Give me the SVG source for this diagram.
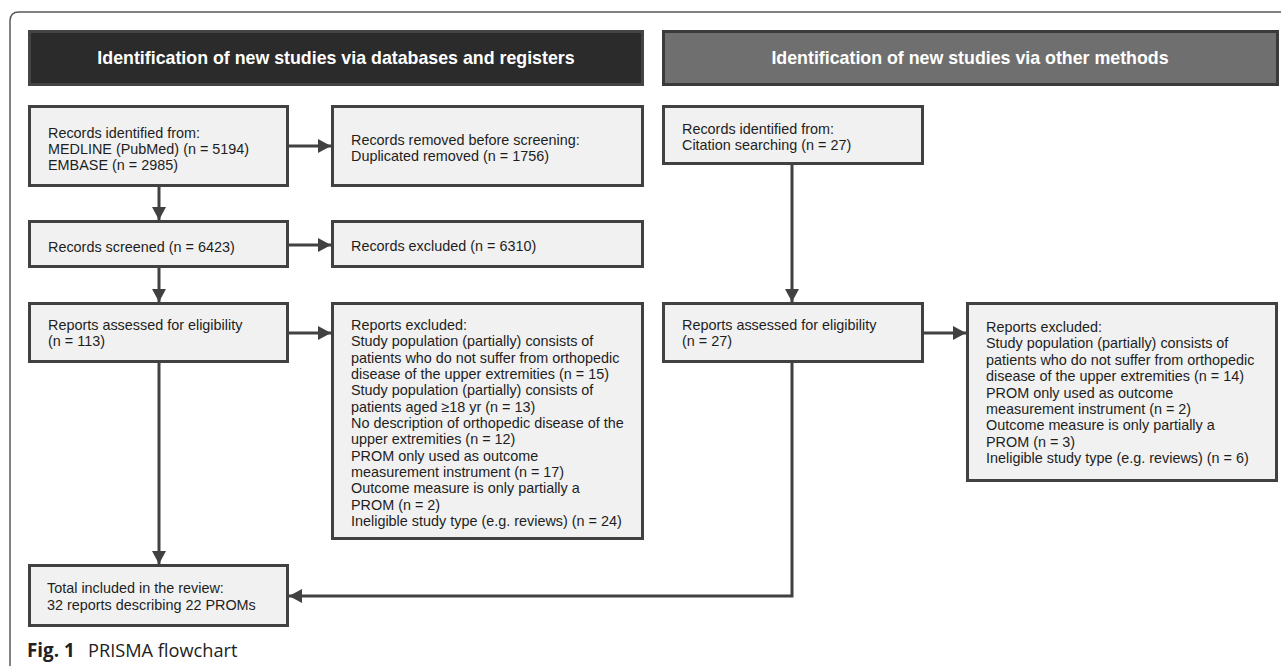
<svg xmlns="http://www.w3.org/2000/svg" width="1281" height="666" viewBox="0 0 1281 666">
<style>
.box{fill:#f1f1f1;stroke:#414141;stroke-width:3}
.t{font-family:"Liberation Sans",Arial,sans-serif;font-size:14.4px;fill:#1e1e1e}
.h{font-family:"Liberation Sans",Arial,sans-serif;font-size:17.8px;font-weight:bold;fill:#ffffff;text-anchor:middle}
.c{stroke:#414141;stroke-width:3;fill:none}
.cap{font-family:"Open Sans","Liberation Sans",sans-serif;font-size:18.2px;fill:#222}
</style>
<defs>
<marker id="ah" viewBox="0 0 13 14" refX="13" refY="7" markerWidth="13" markerHeight="14" markerUnits="userSpaceOnUse" orient="auto">
<path d="M0,0 L13,7 L0,14 z" fill="#414141"/>
</marker>
</defs>
<rect width="1281" height="666" fill="#ffffff"/>
<path d="M10,666 V21 Q10,12 19,12 H1281" fill="none" stroke="#5a5a5a" stroke-width="1.5"/>

<g id="header1">
<rect x="29.5" y="31.5" width="613" height="53" fill="#2b2b2b" stroke="#444444" stroke-width="3"/>
<text class="h" x="336" y="64">Identification of new studies via databases and registers</text>
</g>
<g id="header2">
<rect x="663.5" y="31.5" width="614" height="53" fill="#6f6f6f" stroke="#3a3a3a" stroke-width="3"/>
<text class="h" x="970" y="64">Identification of new studies via other methods</text>
</g>

<g id="records-identified">
<rect class="box" x="29.5" y="106.5" width="258" height="79"/>
<text class="t" x="48" y="138">Records identified from:</text>
<text class="t" x="48" y="154">MEDLINE (PubMed) (n = 5194)</text>
<text class="t" x="48" y="170">EMBASE (n = 2985)</text>
</g>
<g id="records-removed">
<rect class="box" x="332.5" y="106.5" width="310" height="79"/>
<text class="t" x="351" y="145">Records removed before screening:</text>
<text class="t" x="351" y="161">Duplicated removed (n = 1756)</text>
</g>
<g id="records-screened">
<rect class="box" x="29.5" y="221.5" width="258" height="45"/>
<text class="t" x="48" y="252">Records screened (n = 6423)</text>
</g>
<g id="records-excluded">
<rect class="box" x="332.5" y="221.5" width="310" height="45"/>
<text class="t" x="351" y="251">Records excluded (n = 6310)</text>
</g>
<g id="reports-assessed">
<rect class="box" x="29.5" y="303.5" width="258" height="58"/>
<text class="t" x="48" y="330">Reports assessed for eligibility</text>
<text class="t" x="48" y="346">(n = 113)</text>
</g>
<g id="reports-excluded">
<rect class="box" x="332.5" y="303.5" width="310" height="235"/>
<text class="t" x="351" y="330">Reports excluded:</text>
<text class="t" x="351" y="346.3">Study population (partially) consists of</text>
<text class="t" x="351" y="362.7">patients who do not suffer from orthopedic</text>
<text class="t" x="351" y="379">disease of the upper extremities (n = 15)</text>
<text class="t" x="351" y="395.3">Study population (partially) consists of</text>
<text class="t" x="351" y="411.7">patients aged ≥18 yr (n = 13)</text>
<text class="t" x="351" y="428">No description of orthopedic disease of the</text>
<text class="t" x="351" y="444.3">upper extremities (n = 12)</text>
<text class="t" x="351" y="460.7">PROM only used as outcome</text>
<text class="t" x="351" y="477">measurement instrument (n = 17)</text>
<text class="t" x="351" y="493.3">Outcome measure is only partially a</text>
<text class="t" x="351" y="509.7">PROM (n = 2)</text>
<text class="t" x="351" y="526">Ineligible study type (e.g. reviews) (n = 24)</text>
</g>
<g id="total-included">
<rect class="box" x="29.5" y="565.5" width="258" height="60"/>
<text class="t" x="47" y="593">Total included in the review:</text>
<text class="t" x="47" y="610">32 reports describing 22 PROMs</text>
</g>
<g id="citation-records">
<rect class="box" x="663.5" y="106.5" width="259" height="57"/>
<text class="t" x="682" y="134">Records identified from:</text>
<text class="t" x="682" y="150">Citation searching (n = 27)</text>
</g>
<g id="citation-reports-assessed">
<rect class="box" x="663.5" y="303.5" width="259" height="58"/>
<text class="t" x="682" y="330">Reports assessed for eligibility</text>
<text class="t" x="682" y="346">(n = 27)</text>
</g>
<g id="citation-reports-excluded">
<rect class="box" x="967.5" y="303.5" width="309" height="177"/>
<text class="t" x="986" y="332">Reports excluded:</text>
<text class="t" x="986" y="348.4">Study population (partially) consists of</text>
<text class="t" x="986" y="364.8">patients who do not suffer from orthopedic</text>
<text class="t" x="986" y="381.2">disease of the upper extremities (n = 14)</text>
<text class="t" x="986" y="397.6">PROM only used as outcome</text>
<text class="t" x="986" y="414">measurement instrument (n = 2)</text>
<text class="t" x="986" y="430.4">Outcome measure is only partially a</text>
<text class="t" x="986" y="446.8">PROM (n = 3)</text>
<text class="t" x="986" y="463.2">Ineligible study type (e.g. reviews) (n = 6)</text>
</g>

<g id="connectors">
<line class="c" x1="289" y1="146" x2="331" y2="146" marker-end="url(#ah)"/>
<line class="c" x1="159" y1="187" x2="159" y2="220" marker-end="url(#ah)"/>
<line class="c" x1="289" y1="245" x2="331" y2="245" marker-end="url(#ah)"/>
<line class="c" x1="159" y1="268" x2="159" y2="302" marker-end="url(#ah)"/>
<line class="c" x1="289" y1="333" x2="331" y2="333" marker-end="url(#ah)"/>
<line class="c" x1="159" y1="363" x2="159" y2="564" marker-end="url(#ah)"/>
<line class="c" x1="792" y1="165" x2="792" y2="302" marker-end="url(#ah)"/>
<line class="c" x1="924" y1="333" x2="966" y2="333" marker-end="url(#ah)"/>
<path class="c" d="M792,363 V596 H289" marker-end="url(#ah)"/>
</g>

<g id="caption">
<text class="cap" x="27" y="657"><tspan font-weight="bold" font-size="18.8">Fig. 1</tspan><tspan x="88">PRISMA flowchart</tspan></text>
</g>
</svg>
